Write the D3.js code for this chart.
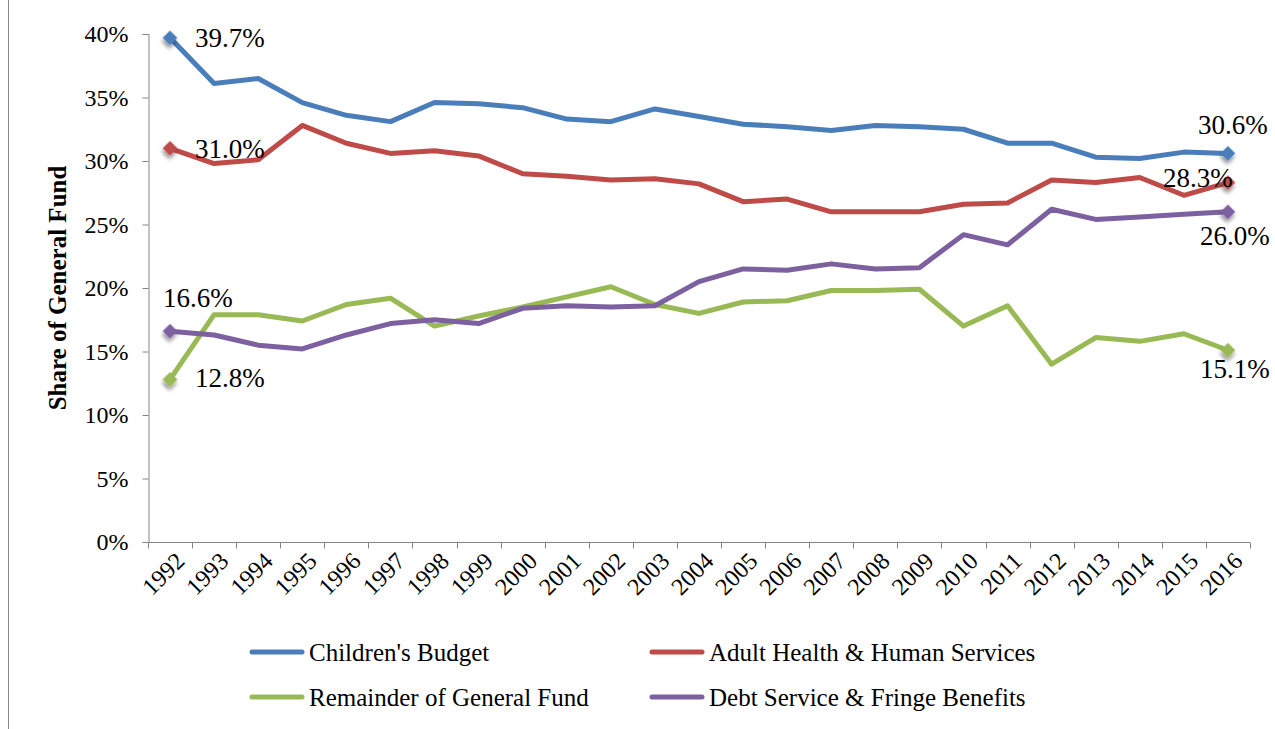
<!DOCTYPE html>
<html>
<head>
<meta charset="utf-8">
<script src="https://cdn.jsdelivr.net/npm/d3@7"></script>
<style>
  html, body { margin: 0; padding: 0; background: #fff; }
  svg { display: block; }
  text { font-family: "Liberation Serif", "Times New Roman", serif; fill: #000; }
</style>
</head>
<body>
<svg id="chart" width="1275" height="729"></svg>
<script>
// Years on the category axis
const years = [1992,1993,1994,1995,1996,1997,1998,1999,2000,2001,2002,2003,2004,
               2005,2006,2007,2008,2009,2010,2011,2012,2013,2014,2015,2016];

// Share of the General Fund, per series
const childrensBudget = [0.397,0.361,0.365,0.346,0.336,0.331,0.346,0.345,0.342,0.333,0.331,0.341,0.335,
                         0.329,0.327,0.324,0.328,0.327,0.325,0.314,0.314,0.303,0.302,0.307,0.306];
const adultHealth     = [0.310,0.298,0.301,0.328,0.314,0.306,0.308,0.304,0.290,0.288,0.285,0.286,0.282,
                         0.268,0.270,0.260,0.260,0.260,0.266,0.267,0.285,0.283,0.287,0.273,0.283];
const remainderFund   = [0.128,0.179,0.179,0.174,0.187,0.192,0.170,0.178,0.185,0.193,0.201,0.187,0.180,
                         0.189,0.190,0.198,0.198,0.199,0.170,0.186,0.140,0.161,0.158,0.164,0.151];
const debtService     = [0.166,0.163,0.155,0.152,0.163,0.172,0.175,0.172,0.184,0.186,0.185,0.186,0.205,
                         0.215,0.214,0.219,0.215,0.216,0.242,0.234,0.262,0.254,0.256,0.258,0.260];

const seriesNames = ["Children's Budget", "Adult Health & Human Services",
                     "Remainder of General Fund", "Debt Service & Fringe Benefits"];
const seriesColors = ["#4A7EBB", "#BE4B48", "#98B954", "#7D60A0"];
const yTickValues = [0,0.05,0.10,0.15,0.20,0.25,0.30,0.35,0.40];

const series = [childrensBudget, adultHealth, remainderFund, debtService].map((values, i) => ({
  name: seriesNames[i], color: seriesColors[i], values
}));

const svg = d3.select("#chart");

// soft drop shadow for the end-point markers
const defs = svg.append("defs");
const f = defs.append("filter").attr("id", "shadow")
  .attr("x", "-50%").attr("y", "-50%").attr("width", "200%").attr("height", "200%");
f.append("feDropShadow").attr("dx", 2).attr("dy", 3).attr("stdDeviation", 2)
  .attr("flood-color", "#000").attr("flood-opacity", 0.45);

// outer chart frame (left edge visible)
svg.append("rect").attr("x", 8.5).attr("y", -5).attr("width", 1400).attr("height", 800)
  .attr("fill", "none").attr("stroke", "#868686").attr("stroke-width", 1);

const x = d3.scaleBand().domain(years).range([148, 1250]).padding(0);
const y = d3.scaleLinear().domain([0, 0.40]).range([542, 34]);
const cx = d => x(d) + x.bandwidth() / 2;

// Y axis
const yAxis = svg.append("g").attr("transform", "translate(148.5,0)")
  .call(d3.axisLeft(y).tickValues(yTickValues).tickFormat(d3.format(".0%")).tickSize(6).tickPadding(14));
yAxis.select(".domain").attr("stroke", "#868686");
yAxis.selectAll(".tick line").attr("stroke", "#868686");
yAxis.selectAll(".tick text").attr("font-size", 24);

// X axis: ticks on the band boundaries
const xAxisG = svg.append("g").attr("transform", "translate(0,542.5)");
xAxisG.append("line").attr("x1", 148).attr("x2", x.range()[1]).attr("stroke", "#868686");
const boundaries = years.map(yr => x(yr)).concat([x(years[years.length - 1]) + x.bandwidth()]);
xAxisG.selectAll("line.tk").data(boundaries).join("line").attr("class", "tk")
  .attr("x1", d => Math.round(d) + 0.5).attr("x2", d => Math.round(d) + 0.5)
  .attr("y1", 0).attr("y2", 6).attr("stroke", "#868686");
xAxisG.selectAll("text").data(years).join("text")
  .attr("transform", d => `translate(${cx(d) + 10},${14}) rotate(-45)`)
  .attr("text-anchor", "end").attr("dy", "0.35em").attr("font-size", 24)
  .text(d => d);

// Y axis title
svg.append("text")
  .attr("transform", "translate(57,288) rotate(-90)")
  .attr("text-anchor", "middle").attr("dy", "0.35em")
  .attr("font-size", 25).attr("font-weight", "bold")
  .text("Share of General Fund");

// Lines
const line = d3.line().x((d, i) => cx(years[i])).y(d => y(d));
svg.append("g").selectAll("path").data(series).join("path")
  .attr("d", d => line(d.values))
  .attr("fill", "none").attr("stroke", d => d.color)
  .attr("stroke-width", 5).attr("stroke-linejoin", "round");

// End-point markers
const diamond = d3.symbol(d3.symbolSquare, 108);
const ends = [];
series.forEach(s => {
  ends.push({ s, i: 0 });
  ends.push({ s, i: s.values.length - 1 });
});
svg.append("g").selectAll("path").data(ends).join("path")
  .attr("d", diamond)
  .attr("transform", d => `translate(${cx(years[d.i])},${y(d.s.values[d.i])}) rotate(45)`)
  .attr("fill", d => d.s.color)
  .attr("filter", "url(#shadow)");

// End-point value labels
const fmt = d3.format(".1%");
const labelOffsets = [
  // [series index, point index, dx, dy, anchor]
  [0, 0, 25, 0, "start"],
  [1, 0, 25, 1, "start"],
  [2, 0, 25, -1, "start"],
  [3, 0, -7, -33, "start"],
  [0, 24, 5, -28, "middle"],
  [1, 24, -30, -5, "middle"],
  [2, 24, 7, 19, "middle"],
  [3, 24, 7, 24, "middle"]
];
svg.append("g").selectAll("text").data(labelOffsets).join("text")
  .attr("x", d => cx(years[d[1]]) + d[2])
  .attr("y", d => y(series[d[0]].values[d[1]]) + d[3])
  .attr("dy", "0.33em").attr("text-anchor", d => d[4])
  .attr("font-size", 27)
  .text(d => fmt(series[d[0]].values[d[1]]));

// Legend
const legendPos = [[250, 652], [650, 652], [250, 697], [650, 697]];
const lg = svg.append("g").selectAll("g").data(series).join("g")
  .attr("transform", (d, i) => `translate(${legendPos[i][0]},${legendPos[i][1]})`);
lg.append("line").attr("x1", 2).attr("x2", 52).attr("stroke", d => d.color)
  .attr("stroke-width", 5).attr("stroke-linecap", "round");
lg.append("text").attr("x", 59).attr("dy", "0.35em").attr("font-size", 25).text(d => d.name);
</script>
</body>
</html>
